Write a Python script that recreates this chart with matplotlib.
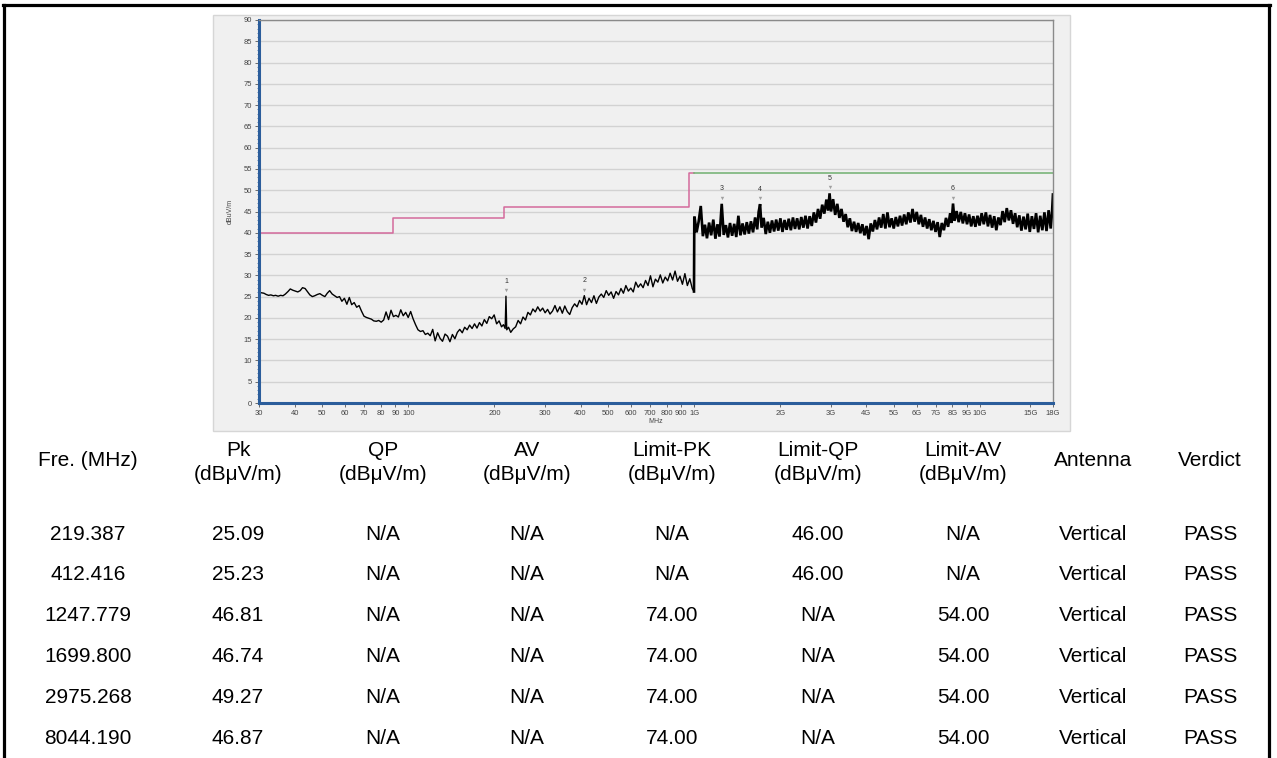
import numpy as np
import matplotlib
matplotlib.use("Agg")
import matplotlib.pyplot as plt
from matplotlib.patches import Rectangle
from matplotlib.lines import Line2D
from matplotlib.ticker import FixedLocator, MultipleLocator, NullFormatter

plt.rcParams['font.family'] = ['Liberation Sans', 'DejaVu Sans']

# ---- spectrum trace, 30 MHz - 1 GHz (MHz, dBuV/m)
low_freq = [30, 30.6, 31.2, 31.8, 32.4, 33.0, 33.7, 34.3, 35.0, 35.7, 36.4, 37.1, 37.9, 38.6,
            39.4, 40.2, 41.0, 41.8, 42.6, 43.5, 44.3, 45.2, 46.1, 47.0, 48.0, 49.0, 50.0, 51.0,
            52.0, 53.0, 54.1, 55.2, 56.3, 57.4, 58.5, 59.7, 60.9, 62.1, 63.3, 64.6, 65.9, 67.2,
            68.5, 69.9, 71.3, 72.7, 74.2, 75.6, 77.2, 78.7, 80.3, 81.9, 83.5, 85.2, 86.9, 88.6,
            90.4, 92.2, 94.0, 95.9, 97.8, 99.8, 101.8, 103.8, 105.9, 108.0, 110.2, 112.4, 114.6,
            116.9, 119.2, 121.6, 124.0, 126.5, 129.0, 131.6, 134.3, 137.0, 139.7, 142.5, 145.4,
            148.3, 151.2, 154.3, 157.3, 160.5, 163.7, 167.0, 170.3, 173.7, 177.2, 180.7, 184.3,
            188.0, 191.8, 195.6, 199.5, 203.5, 207.6, 211.7, 215.0, 218.0, 219.387, 220.8, 224.0,
            228.0, 232.5, 237.2, 242.0, 246.8, 251.7, 256.7, 261.9, 267.1, 272.5, 277.9, 283.4,
            289.1, 294.9, 300.8, 306.8, 312.9, 319.2, 325.6, 332.1, 338.7, 345.5, 352.4, 359.5,
            366.7, 374.0, 381.5, 389.1, 396.9, 404.8, 412.416, 420.0, 428.4, 437.0, 445.7, 454.6,
            463.7, 473.0, 482.4, 492.1, 501.9, 511.9, 522.2, 532.6, 543.3, 554.1, 565.2, 576.5,
            588.1, 599.8, 611.8, 624.1, 636.6, 649.3, 662.3, 675.5, 689.0, 702.8, 716.9, 731.2,
            745.8, 760.8, 776.0, 791.5, 807.3, 823.5, 840.0, 856.8, 873.9, 891.4, 909.2, 927.4,
            946.0, 964.9, 984.2, 998.0]
low_level = [26.0, 25.9, 25.8, 25.5, 25.3, 25.4, 25.2, 25.3, 25.1, 25.3, 25.2, 25.6, 26.2, 26.8,
             26.5, 26.3, 26.1, 26.4, 27.1, 26.9, 26.2, 25.4, 25.0, 25.2, 25.5, 25.7, 25.3, 25.0,
             25.8, 26.4, 25.6, 25.2, 24.8, 25.0, 23.9, 24.6, 23.2, 24.8, 23.1, 23.6, 22.5, 22.9,
             21.6, 20.4, 20.1, 19.9, 19.7, 19.3, 19.2, 19.4, 19.0, 19.5, 21.4, 19.6, 21.8, 20.3,
             20.6, 20.2, 21.9, 20.5, 21.3, 20.1, 21.5, 19.8, 18.4, 17.2, 16.8, 17.0, 16.1,
             16.4, 15.8, 17.3, 14.6, 16.5, 15.2, 14.5, 16.2, 15.7, 14.4, 16.1, 15.1,
             16.6, 17.3, 16.5, 17.8, 17.2, 18.3, 17.5, 18.6, 17.6, 18.9, 18.1, 19.6,
             18.7, 20.3, 19.8, 20.7, 18.6, 19.3, 17.9, 18.4, 17.5, 25.09, 17.2, 17.8,
             16.6, 17.4, 17.9, 19.4, 18.6, 20.2, 19.5, 21.3, 20.7, 22.1, 21.4, 22.6,
             21.6, 22.3, 21.2, 22.0, 20.9, 21.6, 22.9, 21.4, 22.6, 21.1, 22.8, 21.5,
             20.8, 22.4, 23.3, 22.6, 24.1, 23.2, 25.23, 23.1, 24.6, 23.6, 25.2, 23.4,
             24.9, 25.6, 24.8, 26.4, 25.3, 26.1, 24.6, 26.2, 25.4, 26.9, 25.8, 27.6,
             26.3, 27.0, 26.1, 28.4, 27.2, 28.0, 27.1, 28.8, 27.6, 29.9, 27.3, 29.1,
             28.4, 30.1, 28.2, 29.6, 28.7, 30.5, 28.9, 31.0, 28.6, 29.8, 27.9, 30.4,
             27.6, 29.2, 26.9, 26.2]

# ---- spectrum trace, 1 GHz - 18 GHz
high_freq = [1000.5, 1002, 1019, 1036, 1054, 1072, 1090, 1108, 1127, 1146, 1166, 1186, 1206, 1226,
             1247.779, 1268, 1290, 1312, 1334, 1357, 1380, 1403, 1427, 1451, 1476, 1501, 1527,
             1553, 1579, 1606, 1633, 1661, 1680, 1699.8, 1720, 1749, 1779, 1809, 1840, 1871,
             1903, 1935, 1968, 2002, 2036, 2070, 2105, 2141, 2178, 2215, 2252, 2291, 2330,
             2369, 2409, 2450, 2492, 2534, 2577, 2621, 2666, 2711, 2757, 2804, 2852, 2900,
             2940, 2975.268, 3010, 3061, 3113, 3166, 3220, 3275, 3330, 3387, 3444, 3503, 3562,
             3623, 3684, 3747, 3811, 3875, 3941, 4008, 4076, 4145, 4216, 4287, 4360, 4434,
             4509, 4586, 4664, 4743, 4823, 4905, 4989, 5073, 5160, 5247, 5336, 5427, 5519,
             5613, 5708, 5805, 5904, 6004, 6106, 6210, 6315, 6422, 6531, 6642, 6755, 6870,
             6987, 7105, 7226, 7349, 7474, 7601, 7730, 7861, 7950, 8044.19, 8140, 8278, 8419,
             8562, 8707, 8855, 9005, 9158, 9314, 9472, 9633, 9797, 9963, 10132, 10305, 10480,
             10658, 10839, 11023, 11210, 11401, 11595, 11792, 11992, 12196, 12403, 12614,
             12829, 13047, 13268, 13494, 13723, 13956, 14194, 14435, 14680, 14930, 15183,
             15441, 15704, 15971, 16242, 16518, 16799, 17084, 17375, 17670, 17850, 17990]
high_level = [43.5, 43.8, 40.1, 42.6, 46.3, 39.2, 41.9, 38.7, 42.4, 39.4, 43.1, 38.6, 42.0, 39.1,
              46.81, 39.5, 41.8, 38.9, 42.3, 39.3, 42.1, 39.0, 44.0, 39.4, 42.2, 39.6, 42.5,
              39.8, 42.7, 40.1, 43.6, 40.8, 44.9, 46.74, 41.2, 43.5, 39.7, 42.6, 40.0, 42.9,
              40.3, 43.1, 40.5, 43.4, 40.2, 43.0, 40.7, 43.3, 40.6, 43.6, 40.9, 43.4, 40.8,
              43.7, 41.2, 44.0, 41.0, 43.9, 41.6, 44.8, 42.4, 45.6, 43.3, 46.6, 44.5, 47.8,
              45.2, 49.27, 45.0, 47.9, 44.2, 46.8, 43.5, 45.6, 42.6, 44.4, 41.3, 43.4, 40.4,
              42.6, 40.2, 42.3, 39.9, 42.0, 39.4, 41.6, 38.5, 42.2, 40.3, 43.0, 40.8, 43.6,
              41.2, 44.4, 41.0, 44.8, 41.3, 43.4, 41.0, 43.7, 41.5, 44.0, 41.7, 44.3, 42.0,
              44.8, 42.4, 45.6, 42.6, 44.9, 42.0, 44.2, 41.4, 43.6, 41.0, 43.2, 40.6, 42.8,
              40.2, 42.5, 39.0, 42.3, 40.6, 43.5, 41.4, 44.6, 42.3, 46.87, 42.8, 45.1, 42.5,
              44.9, 42.2, 44.6, 42.0, 44.3, 41.5, 43.9, 41.4, 44.0, 41.7, 44.6, 42.0, 44.8,
              41.5, 44.2, 41.2, 43.9, 40.6, 43.6, 41.8, 45.1, 42.5, 45.8, 42.9,
              45.3, 42.1, 44.6, 41.3, 44.1, 40.5, 43.8, 40.8, 44.5, 40.2, 43.9,
              40.9, 44.6, 40.1, 44.0, 40.6, 44.8, 40.4, 45.3, 41.0, 44.5, 49.0]

# ---- limit lines
limit_pk_freq = [30, 88, 88, 216, 216, 960, 960, 1000]
limit_pk_level = [40, 40, 43.5, 43.5, 46, 46, 54, 54]
limit_av_freq = [1000, 18000]
limit_av_level = [54, 54]

# ---- marker peaks
marker_freq = [219.387, 412.416, 1247.779, 1699.800, 2975.268, 8044.190]
marker_level = [25.09, 25.23, 46.81, 46.74, 49.27, 46.87]
marker_id = ['1', '2', '3', '4', '5', '6']

xtick_vals = [30, 40, 50, 60, 70, 80, 90, 100, 200, 300, 400, 500, 600, 700, 800, 900,
              1000, 2000, 3000, 4000, 5000, 6000, 7000, 8000, 9000, 10000, 15000, 18000]
xtick_text = ['30', '40', '50', '60', '70', '80', '90', '100', '200', '300', '400', '500',
              '600', '700', '800', '900', '1G', '2G', '3G', '4G', '5G', '6G', '7G', '8G',
              '9G', '10G', '15G', '18G']

# ---- table
headers = [['Fre. (MHz)'], ['Pk', '(dBμV/m)'], ['QP', '(dBμV/m)'], ['AV', '(dBμV/m)'],
           ['Limit-PK', '(dBμV/m)'], ['Limit-QP', '(dBμV/m)'], ['Limit-AV', '(dBμV/m)'],
           ['Antenna'], ['Verdict']]
rows = [
    ['219.387', '25.09', 'N/A', 'N/A', 'N/A', '46.00', 'N/A', 'Vertical', 'PASS'],
    ['412.416', '25.23', 'N/A', 'N/A', 'N/A', '46.00', 'N/A', 'Vertical', 'PASS'],
    ['1247.779', '46.81', 'N/A', 'N/A', '74.00', 'N/A', '54.00', 'Vertical', 'PASS'],
    ['1699.800', '46.74', 'N/A', 'N/A', '74.00', 'N/A', '54.00', 'Vertical', 'PASS'],
    ['2975.268', '49.27', 'N/A', 'N/A', '74.00', 'N/A', '54.00', 'Vertical', 'PASS'],
    ['8044.190', '46.87', 'N/A', 'N/A', '74.00', 'N/A', '54.00', 'Vertical', 'PASS'],
]

W, H = 1277, 758
fig = plt.figure(figsize=(W / 100, H / 100), dpi=100)
fig.patch.set_facecolor('white')


def fx(px):
    return px / W


def fy(py):
    return 1 - py / H


# grey chart panel
fig.patches.append(Rectangle((fx(213), fy(431)), fx(1070 - 213), (431 - 15) / H,
                             transform=fig.transFigure, fc='#f0f0f0', ec='#d6d6d6', lw=1,
                             zorder=-5))

ax = fig.add_axes([fx(259), fy(403), fx(1053 - 259), (403 - 20) / H], zorder=2)
ax.set_facecolor('#f0f0f0')
ax.set_xscale('log')
ax.set_xlim(30, 18000)
ax.set_ylim(0, 90)

ax.yaxis.set_major_locator(MultipleLocator(5))
ax.yaxis.set_minor_locator(MultipleLocator(1))
ax.xaxis.set_major_locator(FixedLocator(xtick_vals))
ax.xaxis.set_minor_locator(FixedLocator([]))
ax.set_xticklabels(xtick_text)
ax.xaxis.set_minor_formatter(NullFormatter())
ax.grid(axis='y', color='#d2d2d2', lw=1)
ax.set_axisbelow(True)

for side in ['top', 'right']:
    ax.spines[side].set_color('#8a8a8a')
    ax.spines[side].set_linewidth(1)
for side in ['left', 'bottom']:
    ax.spines[side].set_color('#2b5d9b')
    ax.spines[side].set_linewidth(2.2)

ax.tick_params(axis='both', which='major', labelsize=5.5, labelcolor='#444444',
               color='#555555', length=3, width=0.6, pad=2)
ax.tick_params(axis='y', which='minor', length=1.5, width=0.5, color='#2b5d9b')
ax.set_ylabel('dBuV/m', fontsize=5, color='#444444', labelpad=7)
ax.set_xlabel('MHz', fontsize=5, color='#444444', labelpad=1)

ax.plot(limit_pk_freq, limit_pk_level, color='#d46a9c', lw=1.1)
ax.plot(limit_av_freq, limit_av_level, color='#6fb06f', lw=1.1)

ax.plot(low_freq, low_level, color='black', lw=1.0)
ax.plot([low_freq[-1]] + high_freq, [low_level[-1]] + high_level, color='black', lw=1.9,
        solid_joinstyle='miter')

ax.scatter(marker_freq, np.array(marker_level) + 1.4, marker='v', s=6, color='#a0a0a0',
           zorder=5, linewidths=0)
for f, lv, t in zip(marker_freq, marker_level, marker_id):
    ax.text(f, lv + 2.7, t, fontsize=5, ha='center', va='bottom', color='#333333')

# outer frame
frame = dict(color='black', lw=2.3, transform=fig.transFigure)
fig.add_artist(Line2D([fx(3), fx(1270)], [fy(5), fy(5)], **frame))
fig.add_artist(Line2D([fx(4), fx(4)], [fy(5), 0], **frame))
fig.add_artist(Line2D([fx(1269), fx(1269)], [fy(5), 0], **frame))

# results table
col_x = [88, 238, 383, 527, 672, 818, 963, 1093, 1210]
for x, h in zip(col_x, headers):
    if len(h) == 1:
        fig.text(fx(x), fy(461), h[0], ha='center', va='center', fontsize=15)
    else:
        fig.text(fx(x), fy(450), h[0], ha='center', va='center', fontsize=15)
        fig.text(fx(x), fy(474), h[1], ha='center', va='center', fontsize=15)

for i, r in enumerate(rows):
    y = 534 + i * 40.8
    for x, v in zip(col_x, r):
        fig.text(fx(x), fy(y), v, ha='center', va='center', fontsize=15)

fig.savefig('out.png', dpi=100, facecolor='white')
